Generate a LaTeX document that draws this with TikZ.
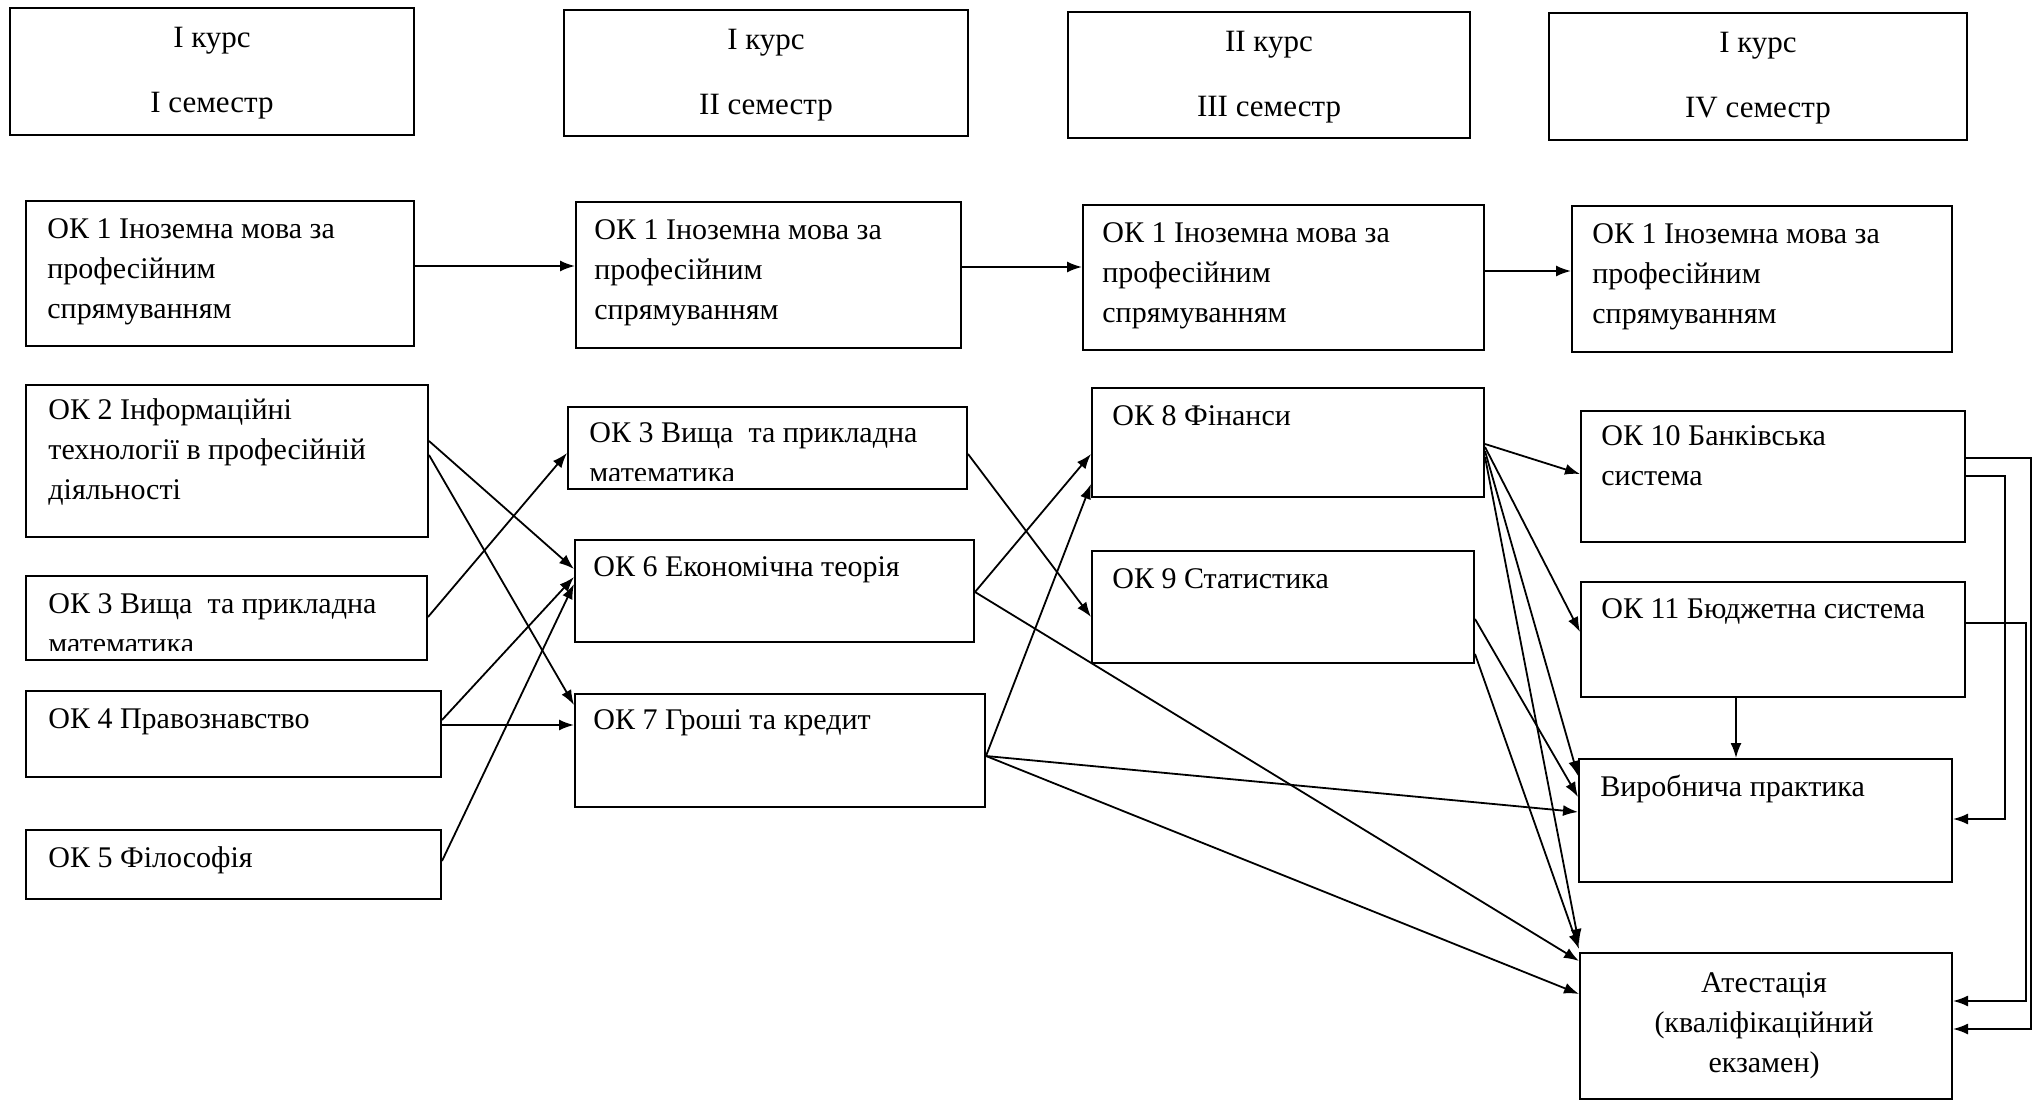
\documentclass[tikz,border=0pt]{standalone}
\usepackage{fontspec}
\setmainfont{Liberation Serif}
\usetikzlibrary{arrows.meta,fit,calc}
\begin{document}
\begin{tikzpicture}[x=0.5pt,y=-0.5pt,
  box/.style={draw, line width=1pt, inner sep=0pt},
  txt/.style={anchor=north west, inner sep=0pt, align=left, font=\fontsize{15}{20}\selectfont},
  ctxt/.style={anchor=north, inner sep=0pt, align=center, font=\fontsize{15}{20}\selectfont},
  hdr/.style={anchor=north, inner sep=0pt, align=center, font=\fontsize{15.5}{32.5}\selectfont},
  arr/.style={line width=0.9pt, -{Latex[length=7.5pt,width=5.5pt]}},
  ln/.style={line width=0.9pt}]
\fill[white] (0,0) rectangle (2034,1101);
\useasboundingbox (0,0) rectangle (2034,1101);

% headers
\node[box, fit={(10,8)(414,135)}] (H1) {};
\node[box, fit={(564,10)(968,136)}] (H2) {};
\node[box, fit={(1068,12)(1470,138)}] (H3) {};
\node[box, fit={(1549,13)(1967,140)}] (H4) {};
\node[hdr] (h1) at ($(H1.north)+(0,-5.5)$) {\strut I курс\\I семестр};
\node[hdr] (h2) at ($(H2.north)+(0,-5.5)$) {\strut I курс\\II семестр};
\node[hdr] (h3) at ($(H3.north)+(0,-5.5)$) {\strut II курс\\III семестр};
\node[hdr] (h4) at ($(H4.north)+(0,-5.5)$) {\strut I курс\\IV семестр};

% row 1
\node[box, fit={(26,201)(414,346)}] (A1) {};
\node[box, fit={(576,202)(961,348)}] (A2) {};
\node[box, fit={(1083,205)(1484,350)}] (A3) {};
\node[box, fit={(1572,206)(1952,352)}] (A4) {};
\node[txt] (a1) at ($(A1.north west)+(22,10)$) {\strut ОК 1 Іноземна мова за\\професійним\\спрямуванням};
\node[txt] (a2) at ($(A2.north west)+(19,10)$) {\strut ОК 1 Іноземна мова за\\професійним\\спрямуванням};
\node[txt] (a3) at ($(A3.north west)+(20,10)$) {\strut ОК 1 Іноземна мова за\\професійним\\спрямуванням};
\node[txt] (a4) at ($(A4.north west)+(21,10)$) {\strut ОК 1 Іноземна мова за\\професійним\\спрямуванням};

% column 1
\node[box, fit={(26,385)(428,537)}] (B2) {};
\node[box, fit={(26,576)(427,660)}] (B3) {};
\node[box, fit={(26,691)(441,777)}] (B4) {};
\node[box, fit={(26,830)(441,899)}] (B5) {};
\node[txt] (b2) at ($(B2.north west)+(23,7)$) {\strut ОК 2 Інформаційні\\технології в професійній\\діяльності};
\begin{scope}
  \clip (26,576) rectangle (427,650);
  \node[txt] (b3) at ($(B3.north west)+(23,10)$) {\strut ОК 3 Вища\ \ та прикладна\\математика};
\end{scope}
\node[txt] (b4) at ($(B4.north west)+(23,10)$) {\strut ОК 4 Правознавство};
\node[txt] (b5) at ($(B5.north west)+(23,10)$) {\strut ОК 5 Філософія};

% column 2
\node[box, fit={(568,407)(967,489)}] (C3) {};
\node[box, fit={(575,540)(974,642)}] (C6) {};
\node[box, fit={(575,694)(985,807)}] (C7) {};
\begin{scope}
  \clip (568,407) rectangle (967,480);
  \node[txt] (c3) at ($(C3.north west)+(22,8)$) {\strut ОК 3 Вища\ \ та прикладна\\математика};
\end{scope}
\node[txt] (c6) at ($(C6.north west)+(19,9)$) {\strut ОК 6 Економічна теорія};
\node[txt] (c7) at ($(C7.north west)+(19,8)$) {\strut ОК 7 Гроші та кредит};

% column 3
\node[box, fit={(1092,388)(1484,497)}] (D8) {};
\node[box, fit={(1092,551)(1474,663)}] (D9) {};
\node[txt] (d8) at ($(D8.north west)+(21,10)$) {\strut ОК 8 Фінанси};
\node[txt] (d9) at ($(D9.north west)+(21,10)$) {\strut ОК 9 Статистика};

% column 4
\node[box, fit={(1581,411)(1965,542)}] (E10) {};
\node[box, fit={(1581,582)(1965,697)}] (E11) {};
\node[box, fit={(1579,759)(1952,882)}] (EP) {};
\node[box, fit={(1580,953)(1952,1099)}] (EA) {};
\node[txt] (e10) at ($(E10.north west)+(21,7)$) {\strut ОК 10 Банківська\\система};
\node[txt] (e11) at ($(E11.north west)+(21,9)$) {\strut ОК 11 Бюджетна система};
\node[txt] (ep) at ($(EP.north west)+(22,10)$) {\strut Виробнича практика};
\node[ctxt] (ea) at ($(EA.north)+(-2,12)$) {\strut Атестація\\(кваліфікаційний\\екзамен)};

% row 1 arrows
\coordinate (a1r) at ($(A1.north east)+(0,66)$);
\coordinate (a2r) at ($(A2.north east)+(0,66)$);
\coordinate (a3r) at ($(A3.north east)+(0,67)$);
\draw[arr] (a1r) -- (a1r -| A2.west);
\draw[arr] (a2r) -- (a2r -| A3.west);
\draw[arr] (a3r) -- (a3r -| A4.west);

% column 1 -> column 2
\draw[arr] ($(B2.north east)+(0,57)$) -- ($(C6.north west)+(0,30)$);
\draw[arr] ($(B2.north east)+(0,71)$) -- ($(C7.north west)+(0,12)$);
\draw[arr] ($(B3.north east)+(0,42)$) -- ($(C3.north west)+(0,47)$);
\draw[arr] ($(B4.north east)+(0,30)$) -- ($(C6.north west)+(0,38)$);
\coordinate (b4r) at ($(B4.north east)+(0,35)$);
\draw[arr] (b4r) -- (b4r -| C7.west);
\draw[arr] ($(B5.north east)+(0,32)$) -- ($(C6.north west)+(0,45)$);

% column 2 -> column 3 / 4
\draw[arr] ($(C3.north east)+(0,48)$) -- ($(D9.north west)+(0,67)$);
\draw[arr] ($(C6.north east)+(0,53)$) -- ($(D8.north west)+(0,67)$);
\draw[arr] ($(C7.north east)+(0,63)$) -- ($(D8.north west)+(0,97)$);
\draw[arr] ($(C6.north east)+(0,53)$) -- ($(EA.north west)+(0,9)$);
\draw[arr] ($(C7.north east)+(0,63)$) -- ($(EP.north west)+(0,54)$);
\draw[arr] ($(C7.north east)+(0,63)$) -- ($(EA.north west)+(0,42)$);

% column 3 -> column 4
\draw[arr] ($(D8.north east)+(0,57)$) -- ($(E10.north west)+(0,64)$);
\draw[arr] ($(D8.north east)+(0,60)$) -- ($(E11.north west)+(0,51)$);
\draw[arr] ($(D8.north east)+(0,64)$) -- ($(EP.north west)+(0,18)$);
\draw[arr] ($(D8.north east)+(0,70)$) -- ($(EA.north west)+(0,-8)$);
\draw[arr] ($(D9.north east)+(0,69)$) -- ($(EP.north west)+(0,39)$);
\draw[arr] ($(D9.north east)+(0,104)$) -- ($(EA.north west)+(0,-3)$);

% column 4 internal
\coordinate (e11b) at ($(E11.south west)+(156,0)$);
\draw[arr] (e11b) -- (e11b |- EP.north);
\draw[arr] ($(E10.north east)+(0,66)$) -- ++(39,0) |- ($(EP.north east)+(0,61)$);
\draw[arr] ($(E10.north east)+(0,48)$) -- ++(65,0) |- ($(EA.north east)+(0,77)$);
\draw[arr] ($(E11.north east)+(0,42)$) -- ++(60,0) |- ($(EA.north east)+(0,49)$);
\end{tikzpicture}
\end{document}
